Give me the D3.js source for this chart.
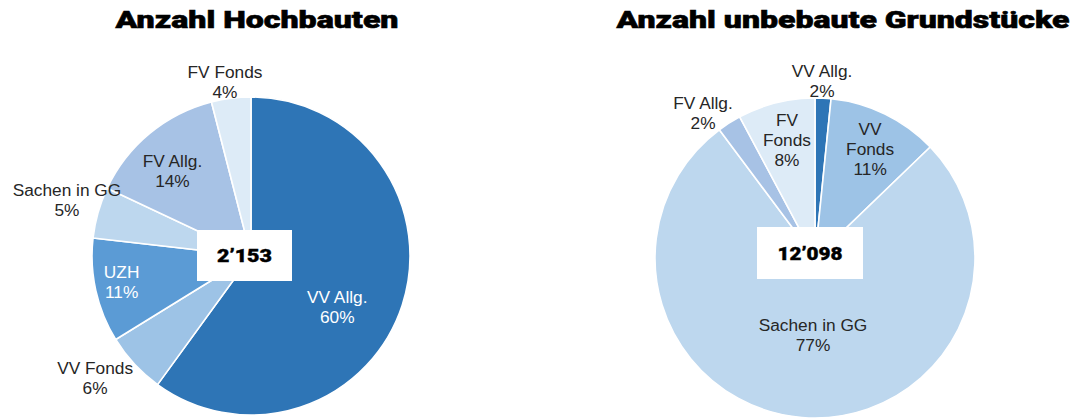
<!DOCTYPE html>
<html>
<head>
<meta charset="utf-8">
<script src="https://cdn.jsdelivr.net/npm/d3@7"></script>
<style>
  html, body { margin: 0; padding: 0; background: #fff; }
  svg { display: block; }
</style>
</head>
<body>
<svg id="chart" width="1077" height="419"></svg>
<script>
// ---- data ----
const leftTitle = "Anzahl Hochbauten";
const leftCategories = ["VV Allg.", "VV Fonds", "UZH", "Sachen in GG", "FV Allg.", "FV Fonds"];
const leftValues = [60.0, 6.2, 10.6, 5.2, 14.0, 4.0];
const leftTotal = "2’153";

const rightTitle = "Anzahl unbebaute Grundstücke";
const rightCategories = ["VV Allg.", "VV Fonds", "Sachen in GG", "FV Allg.", "FV Fonds"];
const rightValues = [1.6, 11.2, 77.0, 2.4, 7.8];
const rightTotal = "12’098";

// ---- styles / layout ----
const colorMap = {
  "VV Allg.": "#2E75B6",
  "UZH": "#5B9BD5",
  "VV Fonds": "#9DC3E6",
  "Sachen in GG": "#BDD7EE",
  "FV Allg.": "#A7C2E5",
  "FV Fonds": "#DDEBF7"
};
const whiteText = {"VV Allg.": true, "UZH": true};

const charts = [
  {
    title: leftTitle, categories: leftCategories, values: leftValues, total: leftTotal,
    cx: 251, cy: 256, r: 159,
    titleX: 257, titleW: 283,
    box: {dx: -54, dy: -26, w: 95, h: 51, textW: 55},
    labelK: [0.63, 1.245, 0.83, 1.21, 0.73, 1.107],
    labelShift: [12.6, 4.8, 1.2, 1.1, -3, -1.3],
    wrap: [false, false, false, false, false, false],
    inside: [true, false, true, false, true, false]
  },
  {
    title: rightTitle, categories: rightCategories, values: rightValues, total: rightTotal,
    cx: 815, cy: 258, r: 160,
    titleX: 843, titleW: 453,
    box: {dx: -58, dy: -31, w: 106, h: 52, textW: 65},
    labelK: [1.11, 0.766, 0.48, 1.147, 0.76],
    labelShift: [-0.6, 0.8, -3.2, -5.2, 0.7],
    wrap: [false, true, false, false, true],
    inside: [false, true, true, false, true]
  }
];

const svg = d3.select("#chart");
const fontLabel = "'Liberation Sans', Arial, sans-serif";
const fontTitle = "'Roboto', 'Liberation Sans', Arial, sans-serif";
const labelSize = 17.3;
const lineH = 20;

charts.forEach(c => {
  const g = svg.append("g");
  const pie = d3.pie().sort(null).value(d => d.v).startAngle(0).endAngle(2 * Math.PI);
  const data = c.categories.map((k, i) => ({k, v: c.values[i], i}));
  const arcs = pie(data);
  const arc = d3.arc().innerRadius(0).outerRadius(c.r);

  const pg = g.append("g").attr("transform", `translate(${c.cx},${c.cy})`);
  pg.selectAll("path").data(arcs).join("path")
    .attr("d", arc)
    .attr("fill", d => colorMap[d.data.k])
    .attr("stroke", "#fff")
    .attr("stroke-width", 1.6)
    .attr("stroke-linejoin", "round");

  // labels
  arcs.forEach((a, i) => {
    const mid = (a.startAngle + a.endAngle) / 2 + c.labelShift[i] * Math.PI / 180;
    const d = c.labelK[i] * c.r;
    const x = c.cx + d * Math.sin(mid);
    const y = c.cy - d * Math.cos(mid);
    const lines = (c.wrap[i] ? a.data.k.split(" ") : [a.data.k]).concat([Math.round(a.data.v) + "%"]);
    const n = lines.length;
    const t = g.append("text")
      .attr("font-family", fontLabel)
      .attr("font-size", labelSize)
      .attr("text-anchor", "middle")
      .attr("fill", whiteText[a.data.k] && c.inside[i] ? "#ffffff" : "#262626");
    lines.forEach((ln, j) => {
      t.append("tspan")
        .attr("x", x)
        .attr("y", y + (j - (n - 1) / 2) * lineH + labelSize * 0.35)
        .text(ln);
    });
  });

  // total box
  const bx = c.cx + c.box.dx, by = c.cy + c.box.dy;
  g.append("rect")
    .attr("x", bx).attr("y", by)
    .attr("width", c.box.w).attr("height", c.box.h)
    .attr("fill", "#fff");
  g.append("text")
    .attr("x", bx + c.box.w / 2)
    .attr("y", by + c.box.h / 2 + 6.5)
    .attr("text-anchor", "middle")
    .attr("font-family", fontTitle)
    .attr("font-weight", 900)
    .attr("font-size", 18.5)
    .attr("fill", "#000")
    .attr("stroke", "#000").attr("stroke-width", 0.4)
    .attr("textLength", c.box.textW)
    .attr("lengthAdjust", "spacingAndGlyphs")
    .text(c.total);

  // title
  g.append("text")
    .attr("x", c.titleX)
    .attr("y", 27.5)
    .attr("text-anchor", "middle")
    .attr("font-family", fontTitle)
    .attr("font-weight", 900)
    .attr("font-size", 24.5)
    .attr("fill", "#000")
    .attr("stroke", "#000").attr("stroke-width", 0.6)
    .attr("textLength", c.titleW)
    .attr("lengthAdjust", "spacingAndGlyphs")
    .text(c.title);
});
</script>
</body>
</html>
